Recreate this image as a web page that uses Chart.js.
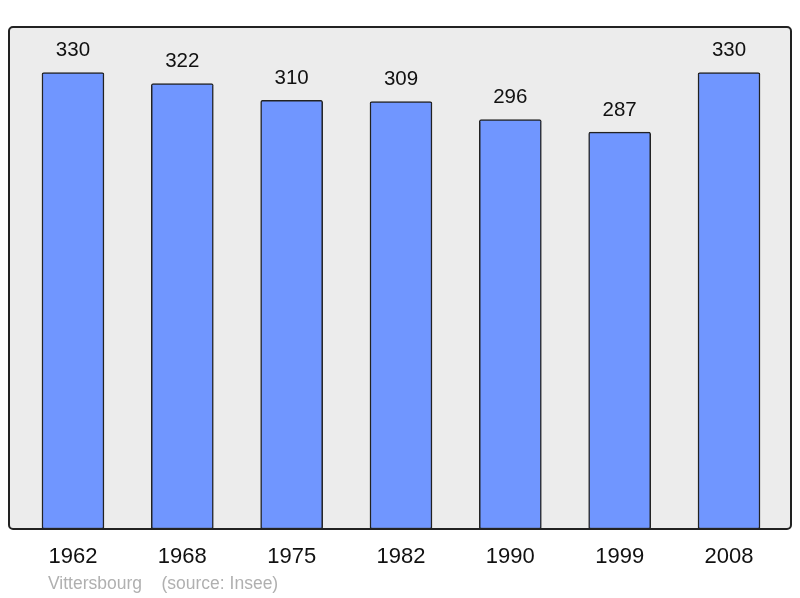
<!DOCTYPE html>
<html>
<head>
<meta charset="utf-8">
<script src="https://cdn.jsdelivr.net/npm/chart.js@4/dist/chart.umd.min.js"></script>
<style>
  html, body { margin: 0; padding: 0; background: #fff; }
  #chart { display: block; }
</style>
</head>
<body>
<canvas id="chart" width="800" height="598"></canvas>
<script>
var years = ["1962", "1968", "1975", "1982", "1990", "1999", "2008"];
var population = [330, 322, 310, 309, 296, 287, 330];
var footerText = "Vittersbourg    (source: Insee)";

// grey panel behind the bars, frame on top of them
var framePlugin = {
    id: "frame",
    beforeDatasetsDraw: function (chart) {
        var a = chart.chartArea, ctx = chart.ctx;
        ctx.save();
        ctx.beginPath();
        ctx.roundRect(a.left, a.top, a.right - a.left, a.bottom - a.top, 4);
        ctx.fillStyle = "#ececec";
        ctx.fill();
        ctx.restore();
    },
    afterDatasetsDraw: function (chart) {
        var a = chart.chartArea, ctx = chart.ctx;
        ctx.save();
        ctx.beginPath();
        ctx.roundRect(a.left, a.top, a.right - a.left, a.bottom - a.top, 4);
        ctx.lineWidth = 2;
        ctx.strokeStyle = "#222";
        ctx.stroke();

        // values above bars
        ctx.font = "20.5px 'Liberation Sans', Arial, sans-serif";
        ctx.fillStyle = "#111";
        ctx.textAlign = "center";
        ctx.textBaseline = "middle";
        chart.getDatasetMeta(0).data.forEach(function (bar, i) {
            ctx.fillText(population[i], bar.x, bar.y - 22);
        });

        // footer
        ctx.font = "17.5px 'Liberation Sans', Arial, sans-serif";
        ctx.fillStyle = "#b0b0b0";
        ctx.textAlign = "left";
        ctx.fillText(footerText, 48, 584);
        ctx.restore();
    },
};

var ctx = document.getElementById("chart").getContext("2d");
var myChart = new Chart(ctx, {
    type: "bar",
    data: {
        datasets: [
            {
                data: population.map(function (v, i) {
                    return { x: i, y: v };
                }),
                backgroundColor: "#7096ff",
                borderColor: "#222",
                borderWidth: 1.5,
                borderSkipped: false,
                borderRadius: 2,
                barThickness: 62,
            },
        ],
    },
    options: {
        responsive: false,
        animation: false,
        layout: {
            padding: { left: 9, right: 9, top: 27, bottom: 12.6 },
        },
        plugins: {
            legend: { display: false },
            tooltip: { enabled: false },
        },
        scales: {
            x: {
                type: "linear",
                offset: false,
                min: -0.585,
                max: 6.567,
                grid: { display: false, drawTicks: false, offset: false },
                border: { display: false },
                afterBuildTicks: function (scale) {
                    scale.ticks = years.map(function (y, i) {
                        return { value: i };
                    });
                },
                ticks: {
                    padding: 15,
                    color: "#111",
                    font: { size: 22, family: "'Liberation Sans', Arial, sans-serif" },
                    maxRotation: 0,
                    callback: function (v) {
                        return years[v];
                    },
                },
            },
            y: {
                display: false,
                min: 0,
                max: 363,
            },
        },
    },
    plugins: [framePlugin],
});
</script>
</body>
</html>
